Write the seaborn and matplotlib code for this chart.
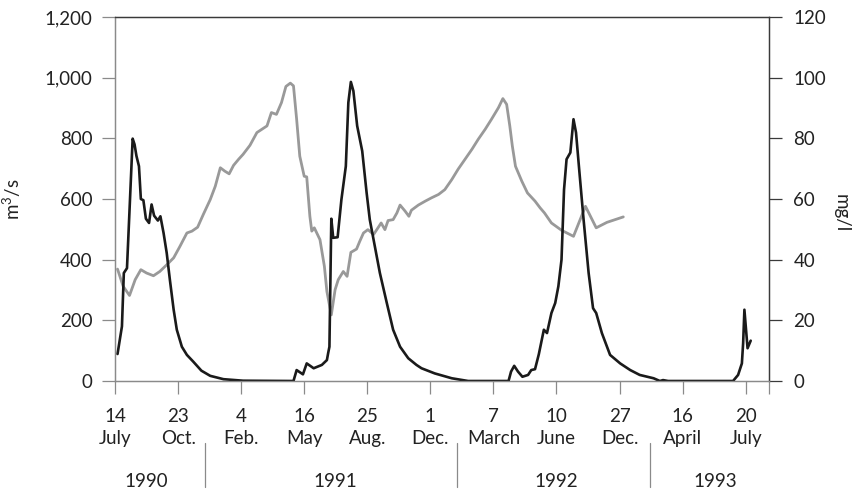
import matplotlib
matplotlib.use("Agg")
import matplotlib.pyplot as plt
import matplotlib.transforms as mtransforms
import seaborn as sns

# discharge (m3/s), x in tick-slot units (0 = 14 July 1990)
flow_x = [0.04, 0.11, 0.14, 0.19, 0.28, 0.31, 0.34, 0.38, 0.41, 0.45, 0.49, 0.54, 0.58, 0.62,
          0.68, 0.72, 0.77, 0.82, 0.87, 0.93, 0.98, 1.06, 1.14, 1.24, 1.37, 1.51, 1.72, 2.03,
          2.83, 2.88, 2.98, 3.04, 3.15, 3.28, 3.36, 3.38, 3.40, 3.43, 3.46, 3.53, 3.59, 3.66,
          3.70, 3.74, 3.78, 3.84, 3.92, 3.99, 4.04, 4.12, 4.20, 4.31, 4.41, 4.52, 4.65, 4.78,
          4.86, 5.07, 5.34, 5.60, 6.24, 6.28, 6.33, 6.39, 6.46, 6.55, 6.60, 6.66, 6.72, 6.80,
          6.85, 6.92, 6.98, 7.03, 7.08, 7.12, 7.16, 7.22, 7.27, 7.31, 7.36, 7.43, 7.51, 7.58,
          7.63, 7.72, 7.85, 8.01, 8.17, 8.32, 8.54, 8.64, 8.69, 8.77, 9.80, 9.88, 9.94, 9.96,
          9.98, 10.03, 10.08]
flow = [89, 180, 356, 372, 799, 780, 742, 708, 600, 596, 535, 521, 582, 545,
        529, 543, 488, 422, 334, 235, 169, 113, 86, 64, 34, 17, 6, 1,
        0, 36, 22, 58, 42, 53, 69, 92, 113, 535, 472, 474, 598, 708,
        918, 986, 956, 841, 758, 620, 532, 444, 356, 257, 169, 113, 75, 53,
        42, 25, 9, 0, 0, 31, 50, 31, 14, 20, 36, 39, 88, 169,
        158, 224, 257, 312, 400, 631, 731, 753, 863, 819, 698, 532, 356, 240,
        224, 158, 86, 58, 36, 20, 9, 0, 3, 0, 0, 20, 58, 125,
        235, 108, 133]

# concentration (mg/l)
conc_x = [0.04, 0.13, 0.23, 0.32, 0.41, 0.50, 0.61, 0.71, 0.82, 0.93, 1.03, 1.14, 1.22, 1.31,
          1.40, 1.51, 1.59, 1.67, 1.74, 1.81, 1.88, 1.96, 2.03, 2.14, 2.25, 2.33, 2.41, 2.48,
          2.56, 2.64, 2.71, 2.78, 2.83, 2.88, 2.93, 3.00, 3.04, 3.09, 3.12, 3.16, 3.25, 3.32,
          3.36, 3.43, 3.49, 3.54, 3.62, 3.68, 3.74, 3.83, 3.88, 3.94, 4.01, 4.10, 4.17, 4.22,
          4.28, 4.33, 4.41, 4.47, 4.52, 4.60, 4.66, 4.70, 4.81, 4.92, 5.02, 5.13, 5.23, 5.34,
          5.44, 5.55, 5.66, 5.76, 5.87, 5.97, 6.08, 6.15, 6.21, 6.26, 6.30, 6.35, 6.45, 6.54,
          6.66, 6.74, 6.81, 6.92, 7.08, 7.27, 7.46, 7.63, 7.80, 8.06]
conc = [36.9, 31.2, 28.2, 33.4, 36.7, 35.6, 34.7, 36.1, 38.3, 40.6, 44.4, 48.8, 49.4, 50.7,
        54.9, 59.8, 64.2, 70.3, 69.2, 68.3, 71.1, 73.1, 74.7, 77.7, 81.9, 83.0, 84.1, 88.5,
        87.9, 91.8, 97.1, 98.2, 97.3, 86.3, 74.1, 67.5, 67.3, 54.3, 49.4, 50.5, 46.6, 37.8,
        29.5, 21.8, 30.1, 33.4, 36.1, 34.5, 42.4, 43.5, 46.0, 48.8, 49.9, 48.3, 50.5, 52.1,
        49.9, 52.9, 53.2, 55.4, 58.0, 56.0, 54.3, 56.3, 58.0, 59.3, 60.4, 61.5, 63.1, 66.4,
        69.8, 73.1, 76.4, 79.7, 83.0, 86.3, 90.1, 93.1, 91.2, 84.1, 77.5, 70.8, 65.9, 62.0,
        59.3, 57.1, 55.4, 52.1, 49.7, 47.7, 57.6, 50.5, 52.3, 54.1]

days = ["14", "23", "4", "16", "25", "1", "7", "10", "27", "16", "20"]
months = ["July", "Oct.", "Feb.", "May", "Aug.", "Dec.", "March", "June", "Dec.", "April", "July"]
years = ["1990", "1991", "1992", "1993"]
year_pos = [0.5, 3.5, 7.0, 9.52]
year_breaks = [1.43, 5.42, 8.48]

sns.set_theme(style="ticks")
plt.rcParams["font.family"] = ["Lato", "DejaVu Sans"]
plt.rcParams["mathtext.fontset"] = "custom"
plt.rcParams["mathtext.rm"] = "Lato"
plt.rcParams["mathtext.default"] = "regular"

fs = 13.5
txt = "#222222"
light = "#8a8a8a"
dark = "#3a3a3a"
xmax = 10.37

fig = plt.figure(figsize=(8.64, 4.95), dpi=100)
ax = fig.add_axes([115 / 864, 1 - 381 / 495, 654 / 864, 364 / 495])
ax2 = ax.twinx()

sns.lineplot(x=conc_x, y=conc, ax=ax2, color="#999999", linewidth=2.0,
             sort=False, estimator=None)
sns.lineplot(x=flow_x, y=flow, ax=ax, color="#1a1a1a", linewidth=1.9,
             sort=False, estimator=None)
ax.set_zorder(ax2.get_zorder() + 1)
ax.patch.set_visible(False)

ax.set_xlim(0, xmax)
ax.set_ylim(0, 1200)
ax2.set_ylim(0, 120)

ax.set_yticks(range(0, 1201, 200))
ax.set_yticklabels([f"{v:,}" for v in range(0, 1201, 200)])
ax2.set_yticks(range(0, 121, 20))

ax.set_xticks(list(range(len(days))) + [xmax])
ax.set_xticklabels([f"{d}\n{m}" for d, m in zip(days, months)] + [""], linespacing=1.35)

ax.tick_params(axis="y", length=9.5, width=0.9, color=light, labelsize=fs,
               labelcolor=txt, pad=6.5)
ax.tick_params(axis="x", length=9.5, width=0.9, color=light, labelsize=fs,
               labelcolor=txt, pad=10)
ax2.tick_params(axis="y", length=9.5, width=0.9, color=dark, labelsize=fs,
                labelcolor=txt, pad=8)

for side in ["left", "bottom"]:
    ax.spines[side].set_color(light)
    ax2.spines[side].set_color(light)
for side in ["right", "top"]:
    ax.spines[side].set_color(dark)
    ax2.spines[side].set_color(dark)
for s in list(ax.spines.values()) + list(ax2.spines.values()):
    s.set_linewidth(0.9)

ax.set_ylabel("m$^3$/s", fontsize=fs, color=txt)
ax.yaxis.set_label_coords(-0.141, 0.5)
ax2.set_ylabel("mg/l", fontsize=fs, color=txt, rotation=270, va="center")
ax2.yaxis.set_label_coords(1.111, 0.46)

# year row below the month labels
trans = mtransforms.blended_transform_factory(ax.transData, ax.transAxes)
for b in year_breaks:
    ax.plot([b, b], [-0.170, -0.291], color=light, linewidth=0.9,
            transform=trans, clip_on=False)
for y, p in zip(years, year_pos):
    ax.text(p, -0.277, y, transform=trans, ha="center", va="center",
            fontsize=fs, color=txt)

fig.savefig("out.png", dpi=100)
